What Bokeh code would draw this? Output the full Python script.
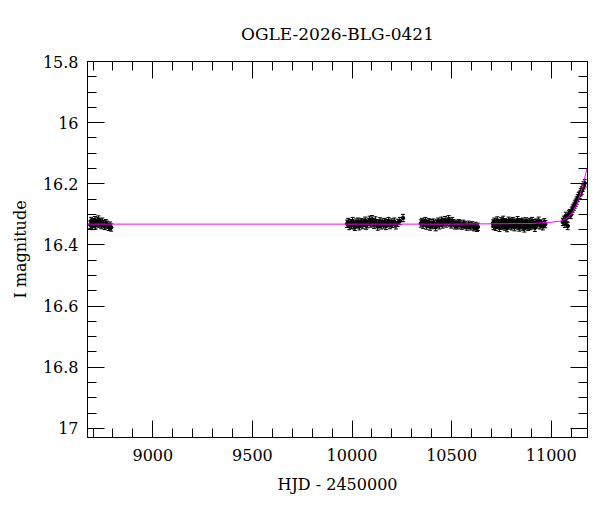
from bokeh.plotting import figure
from bokeh.models import (Range1d, LinearAxis, SingleIntervalTicker, ColumnDataSource,
                          Whisker, TeeHead, CustomJSTickFormatter, Title)
from bokeh.embed import file_html
from bokeh.resources import INLINE

TITLE = "OGLE-2026-BLG-0421"
XLABEL = "HJD - 2450000"
YLABEL = "I magnitude"

# Season 1
hjd1 = [8686, 8690, 8694, 8697, 8701, 8705, 8709, 8713, 8718, 8722, 8727, 8731, 8736, 8741,
        8746, 8752, 8758, 8764, 8771, 8778, 8785, 8791]
mag1 = [16.334, 16.322, 16.328, 16.338, 16.326, 16.331, 16.319, 16.336, 16.329, 16.323, 16.317,
        16.330, 16.327, 16.335, 16.324, 16.332, 16.338, 16.329, 16.334, 16.341, 16.337, 16.343]
# Season 2
hjd2 = [9975, 9981, 9986, 9992, 9998, 10003, 10009, 10014, 10020, 10026, 10031, 10037, 10043,
        10048, 10054, 10060, 10066, 10071, 10077, 10083, 10088, 10094, 10100, 10106, 10111,
        10117, 10123, 10129, 10135, 10140, 10146, 10152, 10158, 10164, 10170, 10176, 10183,
        10190, 10197, 10204, 10212, 10220, 10229, 10240, 10256]
mag2 = [16.331, 16.325, 16.338, 16.329, 16.334, 16.322, 16.336, 16.341, 16.327, 16.333, 16.324,
        16.339, 16.330, 16.326, 16.335, 16.328, 16.321, 16.337, 16.332, 16.325, 16.318, 16.330,
        16.316, 16.327, 16.334, 16.320, 16.329, 16.340, 16.331, 16.323, 16.336, 16.327, 16.333,
        16.325, 16.338, 16.329, 16.322, 16.335, 16.327, 16.331, 16.324, 16.336, 16.328, 16.322,
        16.312]
# Season 3
hjd3 = [10345, 10351, 10357, 10362, 10368, 10374, 10380, 10385, 10391, 10397, 10403, 10409,
        10414, 10420, 10426, 10432, 10438, 10443, 10449, 10455, 10461, 10467, 10473, 10479,
        10485, 10491, 10497, 10503, 10509, 10516, 10522, 10529, 10536, 10543, 10551, 10559,
        10567, 10576, 10585, 10594, 10603, 10612, 10620, 10627, 10632]
mag3 = [16.330, 16.325, 16.334, 16.328, 16.322, 16.337, 16.331, 16.326, 16.340, 16.329, 16.335,
        16.327, 16.333, 16.342, 16.330, 16.324, 16.336, 16.328, 16.321, 16.333, 16.326, 16.319,
        16.330, 16.324, 16.316, 16.327, 16.333, 16.322, 16.329, 16.336, 16.331, 16.336, 16.329,
        16.333, 16.337, 16.331, 16.335, 16.340, 16.334, 16.339, 16.336, 16.342, 16.338, 16.344,
        16.341]
# Season 4
hjd4 = [10707, 10710, 10714, 10718, 10721, 10725, 10729, 10733, 10736, 10740, 10744, 10748,
        10752, 10755, 10759, 10763, 10767, 10770, 10774, 10778, 10782, 10786, 10789, 10793,
        10797, 10801, 10805, 10808, 10812, 10816, 10820, 10824, 10827, 10831, 10835, 10839,
        10843, 10846, 10850, 10854, 10858, 10862, 10865, 10869, 10873, 10877, 10881, 10884,
        10888, 10892, 10896, 10900, 10904, 10908, 10913, 10918, 10924, 10930, 10937, 10944,
        10951, 10958, 10965, 10970]
mag4 = [16.330, 16.338, 16.324, 16.333, 16.341, 16.327, 16.320, 16.335, 16.329, 16.344, 16.331,
        16.323, 16.337, 16.328, 16.318, 16.334, 16.340, 16.326, 16.332, 16.345, 16.329, 16.321,
        16.336, 16.330, 16.325, 16.339, 16.333, 16.322, 16.328, 16.342, 16.335, 16.327, 16.331,
        16.319, 16.337, 16.343, 16.326, 16.332, 16.329, 16.340, 16.324, 16.334, 16.346, 16.330,
        16.323, 16.336, 16.328, 16.341, 16.333, 16.325, 16.338, 16.330, 16.322, 16.335, 16.329,
        16.344, 16.327, 16.333, 16.321, 16.336, 16.330, 16.339, 16.326, 16.332]
# Season 5 (rising)
hjd5 = [11058, 11063, 11068, 11073, 11078, 11083, 11088, 11093, 11098, 11103, 11108, 11113,
        11118, 11123, 11128, 11133, 11138, 11143, 11148, 11153, 11158, 11163, 11168]
mag5 = [16.325, 16.318, 16.331, 16.305, 16.312, 16.338, 16.300, 16.296, 16.302, 16.288, 16.281,
        16.275, 16.268, 16.262, 16.255, 16.247, 16.240, 16.236, 16.228, 16.222, 16.213, 16.205,
        16.198]
ERR = 0.012

# model curve
curve_hjd = [8672, 10500, 10900, 10950, 11000, 11045, 11080, 11095, 11110, 11125, 11135,
             11145, 11155, 11160, 11165, 11170, 11175, 11182]
curve_mag = [16.332, 16.332, 16.330, 16.328, 16.326, 16.322, 16.313, 16.303, 16.290, 16.272,
             16.255, 16.236, 16.213, 16.200, 16.188, 16.175, 16.162, 16.145]

XR = (8672, 11182)
YR = (17.03, 15.8)

hjd = hjd1 + hjd2 + hjd3 + hjd4 + hjd5
mag = mag1 + mag2 + mag3 + mag4 + mag5
src = ColumnDataSource(dict(x=hjd, y=mag,
                            lo=[m - ERR for m in mag], hi=[m + ERR for m in mag]))

FONT = "DejaVu Serif"

p = figure(width=592, height=504, output_backend="svg", toolbar_location=None,
           x_range=Range1d(*XR), y_range=Range1d(*YR),
           min_border_left=87, min_border_right=5, min_border_top=61, min_border_bottom=67,
           background_fill_color="white", border_fill_color="white")
p.title = Title(text=TITLE, align="center", text_font=FONT, text_font_size="17px",
                text_font_style="normal", text_color="black", standoff=36)
p.xgrid.visible = False
p.ygrid.visible = False
p.outline_line_color = "black"
p.outline_line_width = 1

xt = SingleIntervalTicker(interval=500, num_minor_ticks=5)
yt = SingleIntervalTicker(interval=0.2, num_minor_ticks=4)
yfmt = CustomJSTickFormatter(code="return (Math.round(tick*10)/10).toString();")
blank = CustomJSTickFormatter(code="return '';")


def style(ax, show):
    ax.major_tick_in = 17
    ax.major_tick_out = 0
    ax.minor_tick_in = 9
    ax.minor_tick_out = 0
    ax.axis_line_color = "black"
    ax.major_tick_line_color = "black"
    ax.minor_tick_line_color = "black"
    ax.major_label_text_font = FONT
    ax.major_label_text_font_size = "16px"
    ax.major_label_text_color = "black"
    ax.axis_label_text_font = FONT
    ax.axis_label_text_font_size = "16px"
    ax.axis_label_text_font_style = "normal"
    ax.axis_label_text_color = "black"
    if not show:
        ax.formatter = blank
        ax.major_label_standoff = 0


p.xaxis.ticker = xt
p.yaxis.ticker = yt
p.yaxis.formatter = yfmt
p.xaxis.axis_label = XLABEL
p.yaxis.axis_label = YLABEL
style(p.xaxis[0], True)
style(p.yaxis[0], True)
p.xaxis.major_label_standoff = 11
p.yaxis.major_label_standoff = 9
p.xaxis.axis_label_standoff = 11
p.yaxis.axis_label_standoff = 10

ax_top = LinearAxis(ticker=xt)
ax_right = LinearAxis(ticker=yt)
style(ax_top, False)
style(ax_right, False)
p.add_layout(ax_top, "above")
p.add_layout(ax_right, "right")

p.add_layout(Whisker(base="x", lower="lo", upper="hi", source=src, dimension="height",
                     line_color="black", line_width=1,
                     upper_head=TeeHead(size=4, line_color="black", line_width=1),
                     lower_head=TeeHead(size=4, line_color="black", line_width=1)))
p.scatter("x", "y", source=src, size=3.5, color="black")
p.line(curve_hjd, curve_mag, line_color="#ff00ff", line_width=1)

open("out.html", "w").write(file_html(p, INLINE))
